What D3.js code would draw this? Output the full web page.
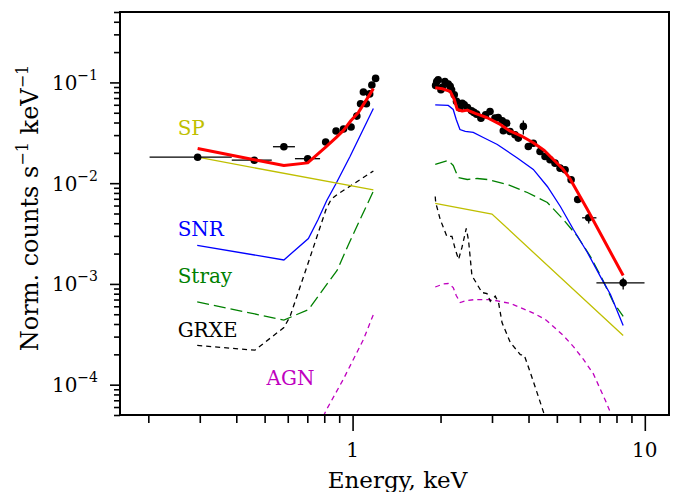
<!DOCTYPE html>
<html lang="en">
<head>
<meta charset="UTF-8">
<title>Spectrum</title>
<script src="https://cdn.jsdelivr.net/npm/d3@7"></script>
<style>
  body { margin: 0; background: #fff; }
  text { font-family: "DejaVu Serif", serif; }
</style>
</head>
<body>
<div id="chart"></div>
<script>
// observed spectrum: energy (keV), counts, x-bin edges, y-error (null = hidden under marker)
const dataE   = [0.295, 0.461, 0.582, 0.702, 0.809, 0.878, 0.931, 0.988, 1.034, 1.065, 1.089, 1.115, 1.144, 1.164, 1.199,
                 1.924, 1.941, 1.963, 2.006, 2.026, 2.070, 2.125, 2.158, 2.181, 2.228, 2.268, 2.330, 2.373, 2.411, 2.474,
                 2.553, 2.602, 2.657, 2.750, 2.852, 2.953, 3.071, 3.150, 3.253, 3.280, 3.366, 3.457, 3.596, 3.691, 3.840,
                 3.994, 4.154, 4.380, 4.557, 4.739, 4.929, 5.129, 5.336, 5.596, 5.894, 6.428, 8.433];
const dataV   = [0.0181, 0.0169, 0.0230, 0.0175, 0.0256, 0.0330, 0.0345, 0.0361, 0.0463, 0.0614, 0.0804, 0.0614, 0.0769, 0.0944, 0.1096,
                 0.0934, 0.1023, 0.1064, 0.0846, 0.0892, 0.1023, 0.0962, 0.0913, 0.0846, 0.0755, 0.0648, 0.0556, 0.0619, 0.0601, 0.0564,
                 0.0524, 0.0504, 0.0484, 0.0442, 0.0478, 0.0515, 0.0442, 0.0449, 0.0417, 0.0331, 0.0394, 0.0326, 0.0302, 0.0280, 0.0366,
                 0.0231, 0.0249, 0.0206, 0.0184, 0.0171, 0.0158, 0.0141, 0.0136, 0.0108, 0.00689, 0.00453, 0.001025];
const dataElo = [0.202, 0.386, 0.534, 0.635, 0.788, 0.858, 0.910, 0.965, 1.012];
const dataEhi = [0.386, 0.529, 0.635, 0.774, 0.831, 0.899, 0.954, 1.012, 1.057];
// extra error bars on single points: [index, Elo, Ehi, Vlo, Vhi]
const dataExtraErr = [[44, null, null, 0.0305, 0.0419], [55, 6.103, 6.830, 0.00398, 0.00512], [56, 6.830, 9.977, 0.00088, 0.00115]];

// model components (null splits the two energy bands)
const sumE = [0.295, 0.461, 0.582, 0.702, 0.809, 0.878, 0.931, 0.988, 1.047, 1.112, 1.178, null,
              1.918, 2.026, 2.158, 2.228, 2.281, 2.373, 2.469, 2.629, 2.890, 3.203, 3.466, 3.810, 4.154, 4.532, 4.864, 5.223, 5.565, 6.362, 7.450, 8.433];
const sumV = [0.0221, 0.0171, 0.0150, 0.0159, 0.0228, 0.0283, 0.0334, 0.0419, 0.0504, 0.0663, 0.0868, null,
              0.0886, 0.0866, 0.0814, 0.0678, 0.0539, 0.0521, 0.0531, 0.0492, 0.0446, 0.0383, 0.0328, 0.0291, 0.0252, 0.0211, 0.0172, 0.0140, 0.01088, 0.00548, 0.00235, 0.00121];

const spE = [0.295, 1.178, null, 1.918, 2.999, 8.433];
const spV = [0.0181, 0.00856, null, 0.00629, 0.00494, 0.000307];

const snrE = [0.294, 0.582, 0.706, 0.762, 0.816, 0.878, 0.980, 1.178, null,
              1.918, 2.125, 2.210, 2.263, 2.330, 2.430, 2.588, 2.801, 3.128, 3.662, 4.154, 4.640, 5.141, 5.698, 6.362, 7.049, 7.629, 8.433];
const snrV = [0.00241, 0.00173, 0.00282, 0.00436, 0.00673, 0.00993, 0.0184, 0.0552, null,
              0.0598, 0.0591, 0.0539, 0.0429, 0.0341, 0.0326, 0.0319, 0.0284, 0.0242, 0.0178, 0.0137, 0.00927, 0.00587, 0.00347, 0.00205, 0.00118, 0.000785, 0.000386];

const strayE = [0.294, 0.582, 0.707, 0.824, 0.885, 0.965, 1.061, 1.178, null,
                1.918, 2.125, 2.210, 2.299, 2.469, 2.671, 2.890, 3.385, 3.963, 4.640, 5.265, 5.881, 6.514, 7.161, 7.811, 8.433];
const strayV = [0.000664, 0.000438, 0.000557, 0.00103, 0.00136, 0.00241, 0.00436, 0.00833, null,
                0.01534, 0.0168, 0.0150, 0.0114, 0.01088, 0.01113, 0.01088, 0.00971, 0.00808, 0.00643, 0.00436, 0.00296, 0.00187, 0.00111, 0.000654, 0.000475];

const grxeE = [0.294, 0.463, 0.582, 0.611, 0.715, 0.811, 0.844, 0.885, 0.965, 1.178, null,
               1.918, 1.925, 1.995, 2.103, 2.188, 2.246, 2.305, 2.367, 2.449, 2.494, 2.561, 2.772, 2.884, 2.960, 3.078, 3.160, 3.246,
               3.466, 3.750, 3.870, 4.057, 4.278, 4.507, 4.677];
const grxeV = [0.000245, 0.000220, 0.000369, 0.000475, 0.00183, 0.00548, 0.00689, 0.00772, 0.00907, 0.0132, null,
               0.00738, 0.00643, 0.00436, 0.00296, 0.00296, 0.00220, 0.00175, 0.00230, 0.00355, 0.00270, 0.00121, 0.000821, 0.000803,
               0.000673, 0.000755, 0.000649, 0.000414, 0.000262, 0.000199, 0.000195, 0.000132, 0.0000834, 0.0000528, 0.0000402];

const agnE = [0.715, 0.774, 0.811, 0.928, 1.089, 1.178, null,
              1.918, 2.042, 2.125, 2.210, 2.263, 2.336, 2.449, 2.629, 2.960, 3.203, 3.466, 3.750, 4.154, 4.568, 4.864, 5.265,
              5.698, 6.166, 6.670, 7.049, 7.333, 7.629, 7.811];
const agnV = [0.0000285, 0.0000411, 0.0000553, 0.000112, 0.000280, 0.000497, null,
              0.000932, 0.000998, 0.00101, 0.000921, 0.000767, 0.000654, 0.000684, 0.000700, 0.000700, 0.000669, 0.000639, 0.000583,
              0.000514, 0.000443, 0.000378, 0.000307, 0.000239, 0.000178, 0.000128, 0.0000894, 0.0000695, 0.0000528, 0.0000430];

const yTickExp = [-4, -3, -2, -1];
const xTickLabels = [1, 10];

// labels: text, colour, anchor energy, anchor count (baseline)
const labels = [
  ["SP", "#bfbf00", 0.252, 0.0298],
  ["SNR", "#0000ff", 0.252, 0.00302],
  ["Stray", "#008000", 0.252, 0.00101],
  ["GRXE", "#000000", 0.252, 0.000300],
  ["AGN", "#bf00bf", 0.508, 0.000100]
];

const W = 675, H = 492;
const margin = {top: 12, right: 6, bottom: 77, left: 120};

const svg = d3.select("#chart").append("svg")
  .attr("width", W).attr("height", H);

const x = d3.scaleLog().domain([0.16, 12.1]).range([margin.left, W - margin.right]);
const y = d3.scaleLog().domain([5e-5, 0.5]).range([H - margin.bottom, margin.top]);

svg.append("clipPath").attr("id", "plotclip")
  .append("rect")
  .attr("x", margin.left).attr("y", margin.top)
  .attr("width", W - margin.left - margin.right)
  .attr("height", H - margin.top - margin.bottom);

const plot = svg.append("g").attr("clip-path", "url(#plotclip)");

const zip = (E, V) => E.map((e, i) => [e, V[i]]);
const line = d3.line()
  .defined(d => d[0] != null && d[1] != null)
  .x(d => x(d[0])).y(d => y(d[1]));

const components = [
  {E: agnE, V: agnV, color: "#bf00bf", dash: "5,4", w: 1.3},
  {E: grxeE, V: grxeV, color: "#000000", dash: "5,4", w: 1.3},
  {E: strayE, V: strayV, color: "#008000", dash: "12,5", w: 1.3},
  {E: snrE, V: snrV, color: "#0000ff", dash: null, w: 1.3},
  {E: spE, V: spV, color: "#bfbf00", dash: null, w: 1.3}
];

components.forEach(c => {
  plot.append("path")
    .datum(zip(c.E, c.V))
    .attr("d", line)
    .attr("fill", "none")
    .attr("stroke", c.color)
    .attr("stroke-width", c.w)
    .attr("stroke-dasharray", c.dash);
});

// data points with error bars
const pts = dataE.map((e, i) => ({e: e, v: dataV[i], elo: dataElo[i], ehi: dataEhi[i], vlo: null, vhi: null}));
dataExtraErr.forEach(r => {
  const p = pts[r[0]];
  if (r[1] != null) { p.elo = r[1]; p.ehi = r[2]; }
  p.vlo = r[3]; p.vhi = r[4];
});

plot.selectAll(".xerr")
  .data(pts.filter(p => p.elo != null))
  .join("line")
    .attr("x1", p => x(p.elo)).attr("x2", p => x(p.ehi))
    .attr("y1", p => y(p.v)).attr("y2", p => y(p.v))
    .attr("stroke", "black").attr("stroke-width", 1.3);

plot.selectAll(".yerr")
  .data(pts.filter(p => p.vlo != null))
  .join("line")
    .attr("x1", p => x(p.e)).attr("x2", p => x(p.e))
    .attr("y1", p => y(p.vlo)).attr("y2", p => y(p.vhi))
    .attr("stroke", "black").attr("stroke-width", 1.3);

plot.selectAll(".pt")
  .data(pts)
  .join("circle")
    .attr("cx", p => x(p.e)).attr("cy", p => y(p.v))
    .attr("r", 3.8)
    .attr("fill", "black");

// total model on top
plot.append("path")
  .datum(zip(sumE, sumV))
  .attr("d", line)
  .attr("fill", "none")
  .attr("stroke", "#ff0000")
  .attr("stroke-width", 3)
  .attr("stroke-linejoin", "round");

// component names
svg.selectAll(".lab")
  .data(labels)
  .join("text")
    .attr("x", d => x(d[2])).attr("y", d => y(d[3]))
    .attr("fill", d => d[1])
    .style("font-size", "20px")
    .text(d => d[0]);

// axes
const isPow = v => Math.abs(Math.log10(v) - Math.round(Math.log10(v))) < 1e-6;

const yAx = svg.append("g").attr("transform", `translate(${margin.left},0)`);
yAx.call(d3.axisLeft(y).tickValues(y.ticks().filter(v => !isPow(v))).tickSize(6).tickFormat(""));
yAx.call(g => g.select(".domain").remove());
const yAx2 = svg.append("g").attr("transform", `translate(${margin.left},0)`);
yAx2.call(d3.axisLeft(y).tickValues(yTickExp.map(p => Math.pow(10, p))).tickSize(10).tickFormat(""));
yAx2.call(g => g.select(".domain").remove());

const xAx = svg.append("g").attr("transform", `translate(0,${H - margin.bottom})`);
xAx.call(d3.axisBottom(x).tickValues(x.ticks().filter(v => !isPow(v))).tickSize(8).tickFormat(""));
xAx.call(g => g.select(".domain").remove());
const xAx2 = svg.append("g").attr("transform", `translate(0,${H - margin.bottom})`);
xAx2.call(d3.axisBottom(x).tickValues(xTickLabels).tickSize(16).tickFormat(""));
xAx2.call(g => g.select(".domain").remove());

svg.selectAll(".tick line").attr("stroke", "black").attr("stroke-width", 1.6);

// y tick labels as 10^n
yTickExp.forEach(p => {
  const t = svg.append("text")
    .attr("x", 98).attr("y", y(Math.pow(10, p)) + 7.5)
    .attr("text-anchor", "end")
    .style("font-size", "20px");
  t.append("tspan").text("10");
  t.append("tspan").attr("dy", -10).style("font-size", "14px").text("\u2212" + Math.abs(p));
});

xTickLabels.forEach(v => {
  svg.append("text")
    .attr("x", x(v)).attr("y", 456.5)
    .attr("text-anchor", "middle")
    .style("font-size", "20px")
    .text(v);
});

// frame
svg.append("rect")
  .attr("x", margin.left).attr("y", margin.top)
  .attr("width", W - margin.left - margin.right)
  .attr("height", H - margin.top - margin.bottom)
  .attr("fill", "none").attr("stroke", "black").attr("stroke-width", 2);

// axis titles
svg.append("text")
  .attr("x", (margin.left + W - margin.right) / 2 + 3).attr("y", 488)
  .attr("text-anchor", "middle")
  .style("font-size", "23px")
  .text("Energy, keV");

const yl = svg.append("text")
  .attr("transform", "translate(38,208) rotate(-90)")
  .attr("text-anchor", "middle")
  .style("font-size", "24px");
yl.append("tspan").text("Norm. counts s");
yl.append("tspan").attr("dy", -10).style("font-size", "16px").text("\u22121");
yl.append("tspan").attr("dy", 10).text(" keV");
yl.append("tspan").attr("dy", -10).style("font-size", "16px").text("\u22121");
</script>
</body>
</html>
